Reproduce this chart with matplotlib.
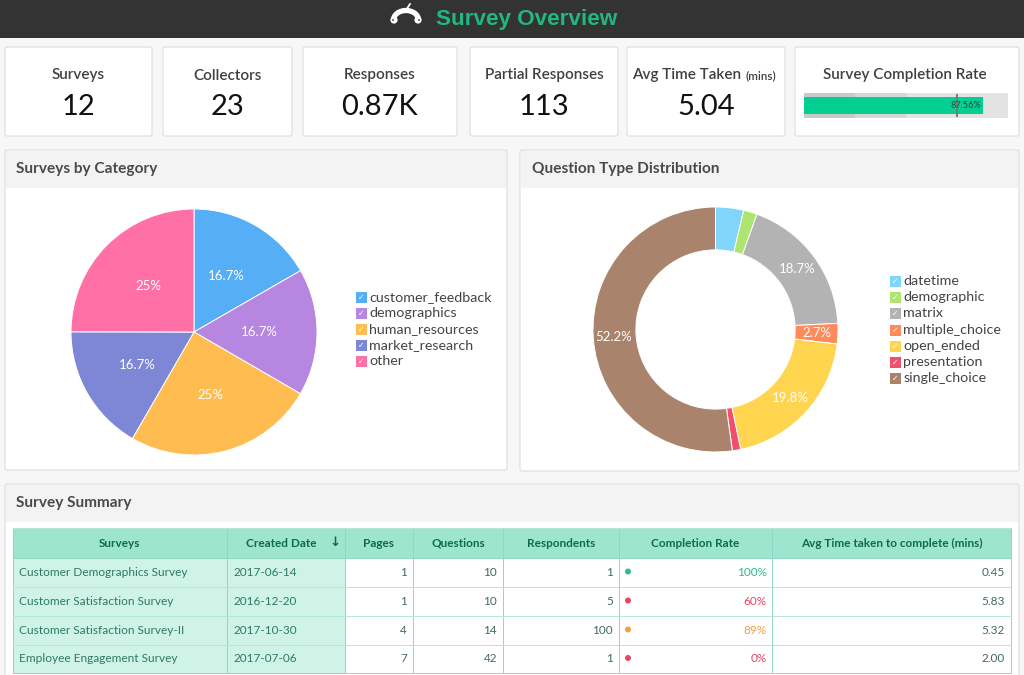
"""
Panel de resumen de encuestas: tarjetas, gráficos de pastel y tabla.
"""
import matplotlib
matplotlib.use('Agg')
import matplotlib.pyplot as plt
from matplotlib.patches import FancyBboxPatch, Rectangle, Arc, Circle

plt.rcParams['font.family'] = ['Lato', 'DejaVu Sans']

# datos
CARD_TITLES = ['Surveys', 'Collectors', 'Responses', 'Partial Responses', 'Avg Time Taken']
CARD_VALUES = ['12', '23', '0.87K', '113', '5.04']

COMPLETION_RATE = 87.56
COMPLETION_TARGET = 75
COMPLETION_BANDS = [25, 25, 50]

CATEGORY_LABELS = ['customer_feedback', 'demographics', 'human_resources', 'market_research', 'other']
CATEGORY_VALUES = [16.7, 16.7, 25, 16.7, 25]
CATEGORY_TEXT = ['16.7%', '16.7%', '25%', '16.7%', '25%']
CATEGORY_COLORS = ['#55AEF6', '#B686E0', '#FFBC50', '#7D87D6', '#FF70A6']

QUESTION_LABELS = ['datetime', 'demographic', 'matrix', 'multiple_choice', 'open_ended', 'presentation', 'single_choice']
QUESTION_VALUES = [3.7, 1.8, 18.7, 2.7, 19.8, 1.1, 52.2]
QUESTION_TEXT = ['', '', '18.7%', '2.7%', '19.8%', '', '52.2%']
QUESTION_COLORS = ['#81D4FA', '#AEE571', '#B3B3B3', '#FF8A5C', '#FFD54F', '#F0506E', '#A9836C']

TABLE_HEADERS = ['Surveys', 'Created Date', 'Pages', 'Questions', 'Respondents', 'Completion Rate',
                 'Avg Time taken to complete (mins)']
SURVEY_NAMES = ['Customer Demographics Survey', 'Customer Satisfaction Survey',
                'Customer Satisfaction Survey-II', 'Employee Engagement Survey']
CREATED_DATES = ['2017-06-14', '2016-12-20', '2017-10-30', '2017-07-06']
PAGES = [1, 1, 4, 7]
QUESTIONS = [10, 10, 14, 42]
RESPONDENTS = [1, 5, 100, 1]
COMPLETION = [100, 60, 89, 0]
AVG_TIMES = [0.45, 5.83, 5.32, 2.00]


def rate_color(rate):
    if rate == 100:
        return '#2DBE85'
    if rate >= 80:
        return '#F0A23C'
    return '#E8455F'


def card(ax, x0, y0, x1, y1):
    ax.add_patch(FancyBboxPatch((x0, y0), x1 - x0, y1 - y0, boxstyle='round,pad=0,rounding_size=2',
                                fc='white', ec='#D8D8D8', lw=0.7))


def panel(ax, x0, y0, x1, y1, header_bottom, title):
    card(ax, x0, y0, x1, y1)
    ax.add_patch(Rectangle((x0 + 1, y0 + 1), x1 - x0 - 2, header_bottom - y0 - 1, fc='#F3F3F3', ec='none'))
    ax.text(x0 + 11.5, (y0 + header_bottom) / 2 - 0.5, title, fontsize=11.1, fontweight='bold',
            color='#4A4A4A', va='center')


def px_axes(fig, x0, y0, x1, y1):
    return fig.add_axes([x0 / 1024, 1 - y1 / 675, (x1 - x0) / 1024, (y1 - y0) / 675])


def draw_legend(ax, x, y, step, labels, colors):
    for i, (lab, col) in enumerate(zip(labels, colors)):
        yy = y + i * step
        ax.add_patch(Rectangle((x, yy - 5), 11, 11, fc=col, ec='none'))
        ax.text(x + 5.5, yy + 0.5, '✓', fontsize=5.5, color='white', ha='center', va='center',
                family=['DejaVu Sans'])
        ax.text(x + 13.5, yy, lab, fontsize=10.3, color='#444444', va='center')


def draw_logo(ax):
    ax.add_patch(Arc((406, 20), 25, 19, theta1=180, theta2=360, lw=3.8, color='white'))
    ax.plot([406, 410], [10, 4], color='white', lw=1.3)
    for x in (394, 418):
        ax.add_patch(Circle((x, 20), 3.6, fc='white', ec='none'))
        ax.add_patch(Circle((x + (1 if x > 400 else -1), 20), 0.9, fc='#333333', ec='none'))


def draw_bullet(fig):
    ax = px_axes(fig, 804, 93, 1008, 118)
    ax.set_xlim(0, 100)
    ax.set_ylim(-1, 1)
    ax.axis('off')
    left = 0
    for width, col in zip(COMPLETION_BANDS, ['#C9C9C9', '#D6D6D6', '#E3E3E3']):
        ax.barh(0, width, left=left, height=2, color=col)
        left += width
    ax.barh(0, COMPLETION_RATE, height=1.36, color='#04CE91')
    ax.plot([COMPLETION_TARGET] * 2, [-0.85, 0.85], color='#6F7F78', lw=1.4)
    ax.text(COMPLETION_RATE - 0.6, 0, f'{COMPLETION_RATE}%', fontsize=6.6, color='#26493C',
            ha='right', va='center')


def draw_pies(fig):
    ax = px_axes(fig, 71, 209, 317, 455)
    ax.pie(CATEGORY_VALUES, colors=CATEGORY_COLORS, startangle=90, counterclock=False, radius=1,
           labels=CATEGORY_TEXT, labeldistance=0.53, wedgeprops={'ec': 'white', 'lw': 0.7},
           textprops={'color': 'white', 'fontsize': 9.5, 'ha': 'center', 'va': 'center'})
    ax.set_xlim(-1, 1)
    ax.set_ylim(-1, 1)

    ax = px_axes(fig, 593, 207, 838, 452)
    ax.pie(QUESTION_VALUES, colors=QUESTION_COLORS, startangle=90, counterclock=False, radius=1,
           labels=QUESTION_TEXT, labeldistance=0.83,
           wedgeprops={'width': 0.35, 'ec': 'white', 'lw': 0.7},
           textprops={'color': 'white', 'fontsize': 9.5, 'ha': 'center', 'va': 'center'})
    ax.set_xlim(-1, 1)
    ax.set_ylim(-1, 1)


def draw_table(ax):
    cols = [13, 227, 345, 413, 503, 619, 772, 1011]
    rows = [528, 558, 587, 616, 645, 673]
    green = '#9DE5CC'
    light = '#CFF4E7'
    line = '#8FD6C6'
    dark = '#0E6B50'
    text = '#3F6B5E'
    ax.add_patch(Rectangle((cols[0], rows[0]), cols[-1] - cols[0], rows[1] - rows[0], fc=green, ec='none'))
    ax.add_patch(Rectangle((cols[0], rows[1]), cols[2] - cols[0], rows[-1] - rows[1], fc=light, ec='none'))
    for c in cols:
        ax.plot([c, c], [rows[0], rows[-1]], color=line, lw=0.7)
    for r in rows:
        ax.plot([cols[0], cols[-1]], [r, r], color=line if r in (rows[1], rows[-1]) else '#B5E6DA', lw=0.7)

    for i, head in enumerate(TABLE_HEADERS):
        xc = (cols[i] + cols[i + 1]) / 2
        if i == 1:
            xc = 281
        ax.text(xc, 543.5, head, fontsize=8.5, fontweight='bold', color=dark, ha='center', va='center')
    ax.text(335, 542, '↓', fontsize=9.5, fontweight='bold', color=dark, ha='center', va='center',
            family=['DejaVu Sans'])

    for j, name in enumerate(SURVEY_NAMES):
        y = (rows[j + 1] + rows[j + 2]) / 2
        ax.text(19, y, name, fontsize=8.6, color='#2E7A64', va='center')
        ax.text(233, y, CREATED_DATES[j], fontsize=8.5, color='#2E7A64', va='center')
        ax.text(cols[3] - 6, y, str(PAGES[j]), fontsize=8.5, color=text, ha='right', va='center')
        ax.text(cols[4] - 6, y, str(QUESTIONS[j]), fontsize=8.5, color=text, ha='right', va='center')
        ax.text(cols[5] - 6, y, str(RESPONDENTS[j]), fontsize=8.5, color=text, ha='right', va='center')
        col = rate_color(COMPLETION[j])
        ax.add_patch(Circle((628, y - 1), 3, fc=col, ec='none'))
        ax.text(cols[6] - 5, y, f'{COMPLETION[j]}%', fontsize=8.5, color=col, ha='right', va='center')
        ax.text(cols[7] - 6, y, f'{AVG_TIMES[j]:.2f}', fontsize=8.5, color=text, ha='right', va='center')


def main():
    fig = plt.figure(figsize=(10.24, 6.75), dpi=100, facecolor='#F7F7F7')
    ax = fig.add_axes([0, 0, 1, 1])
    ax.set_xlim(0, 1024)
    ax.set_ylim(675, 0)
    ax.axis('off')

    # cabecera
    ax.add_patch(Rectangle((0, 0), 1024, 38, fc='#333333', ec='none'))
    draw_logo(ax)
    ax.text(527, 19, 'Survey Overview', fontsize=16.2, fontweight='bold', color='#22B77F',
            ha='center', va='center', family=['Liberation Sans'])

    # tarjetas
    boxes = [(5, 152), (163, 292), (303, 457), (470, 618), (627, 785)]
    for (x0, x1), title, value in zip(boxes, CARD_TITLES, CARD_VALUES):
        card(ax, x0, 47, x1, 136)
        xc = (x0 + x1) / 2
        if title == 'Avg Time Taken':
            ax.text(632, 75.5, title, fontsize=11, fontweight='semibold', color='#404040', va='center')
            ax.text(746, 76, '(mins)', fontsize=8.4, fontweight='semibold', color='#404040', va='center')
        else:
            ax.text(xc, 75.5, title, fontsize=11, fontweight='semibold', color='#404040', ha='center', va='center')
        ax.text(xc, 107, value, fontsize=21, color='#111111', ha='center', va='center')
    card(ax, 795, 47, 1019, 136)
    ax.text(905, 75.5, 'Survey Completion Rate', fontsize=11, fontweight='semibold', color='#404040',
            ha='center', va='center')

    # paneles
    panel(ax, 5, 150, 507, 470, 188, 'Surveys by Category')
    panel(ax, 520, 150, 1019, 471, 188, 'Question Type Distribution')
    panel(ax, 5, 484, 1019, 690, 522, 'Survey Summary')

    draw_legend(ax, 356, 297, 16.1, CATEGORY_LABELS, CATEGORY_COLORS)
    draw_legend(ax, 890, 281, 16.2, QUESTION_LABELS, QUESTION_COLORS)
    draw_table(ax)

    draw_bullet(fig)
    draw_pies(fig)

    fig.savefig('out.png', dpi=100, facecolor=fig.get_facecolor())
    plt.close(fig)


if __name__ == '__main__':
    main()
